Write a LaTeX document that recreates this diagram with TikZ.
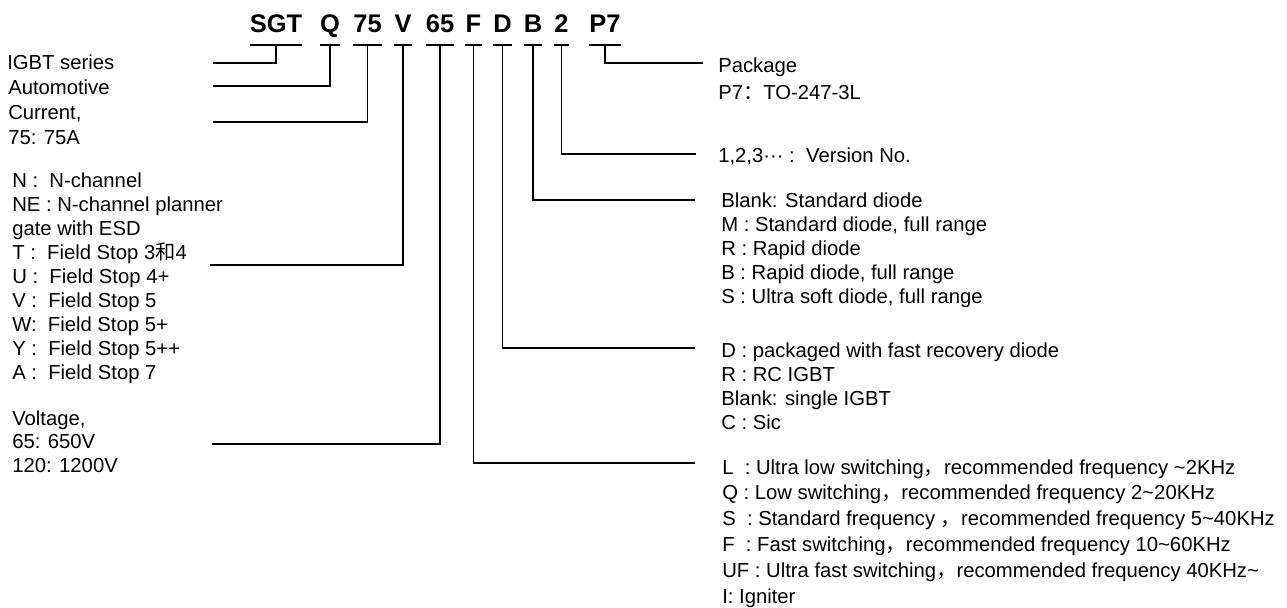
\documentclass[tikz,border=0pt]{standalone}
\usepackage{fontspec}
\setmainfont{Liberation Sans}
\newfontfamily\cjk{Noto Sans CJK SC}
\usetikzlibrary{positioning,calc}
\tikzset{code/.style={font=\bfseries\fontsize{19.1}{22}\selectfont,inner sep=0pt,anchor=base},
desc/.style={font=\fontsize{15.2}{18}\selectfont,align=left,anchor=base west,inner sep=0pt},
link/.style={line width=1.1pt}}

\begin{document}
\begin{tikzpicture}[x=0.75pt,y=-0.75pt]
\useasboundingbox (0,0) rectangle (1287,607);
% part number
\node[code] (sgt) at (276,32) {SGT};
\node[code] (q) at (330,32) {Q};
\node[code] (cur) at (367.5,32) {75};
\node[code] (v) at (403,32) {V};
\node[code] (volt) at (440,32) {65};
\node[code] (f) at (473.5,32) {F};
\node[code] (d) at (502.5,32) {D};
\node[code] (b) at (533,32) {B};
\node[code] (ver) at (561.5,32) {2};
\node[code] (pkg) at (605,32) {P7};
% left side (anchor = baseline of last line)
\node[desc] (series) at (7,69) {IGBT series};
\node[desc] (auto) at (8,94) {Automotive};
\node[desc,font=\fontsize{15.2}{18.75}\selectfont] (current) at (8,144) {Current,\\75: 75A};
\node[desc] (tech) at (12,379) {N :\ \ N-channel\\NE : N-channel planner\\gate with ESD\\T :\ \ Field Stop 3{\cjk 和}4\\U :\ \ Field Stop 4+\\V :\ \ Field Stop 5\\W:\ \ Field Stop 5+\\Y :\ \ Field Stop 5++\\A :\ \ Field Stop 7};
\node[desc,font=\fontsize{15.2}{17.6}\selectfont] (voltage) at (12,472) {Voltage,\\65: 650V\\120: 1200V};
% right side
\node[desc,font=\fontsize{15.2}{20.2}\selectfont] (package) at (718,99) {Package\\P7{\cjk ：}TO-247-3L};
\node[desc] (version) at (718,162) {1,2,3···\ :\ \ Version No.};
\node[desc] (diode) at (721,303) {Blank: Standard diode\\M : Standard diode, full range\\R : Rapid diode\\B : Rapid diode, full range\\S : Ultra soft diode, full range};
\node[desc] (pack) at (721,429) {D : packaged with fast recovery diode\\R : RC IGBT\\Blank: single IGBT\\C : Sic};
\node[desc,font=\fontsize{15.2}{19.35}\selectfont] (freq) at (722,603) {L\ \ : Ultra low switching{\cjk ，}recommended frequency \textasciitilde2KHz\\Q : Low switching{\cjk ，}recommended frequency 2\textasciitilde20KHz\\S\ \ : Standard frequency {\cjk ，}recommended frequency 5\textasciitilde40KHz\\F\ \ : Fast switching{\cjk ，}recommended frequency 10\textasciitilde60KHz\\UF : Ultra fast switching{\cjk ，}recommended frequency 40KHz\textasciitilde\\I: Igniter};
% free ends of the leaders
\coordinate (bar) at (0,45);
\coordinate (e-series) at (213,63);
\coordinate (e-auto) at (213,86);
\coordinate (e-current) at (213,122);
\coordinate (e-tech) at (210,265);
\coordinate (e-voltage) at (212,444);
\coordinate (e-freq) at (695,463);
\coordinate (e-pack) at (695,348);
\coordinate (e-diode) at (695,200);
\coordinate (e-version) at (696,154);
\coordinate (e-package) at (703,63);
% bars under each field
\foreach \n in {sgt,q,cur,v,volt,f,d,b,ver,pkg}
  \draw[link] (\n.west |- bar) -- (\n.east |- bar);
% leaders
\draw[link] (sgt |- bar) |- (e-series);
\draw[link] (q |- bar) |- (e-auto);
\draw[link] (cur |- bar) |- (e-current);
\draw[link] (v |- bar) |- (e-tech);
\draw[link] (volt |- bar) |- (e-voltage);
\draw[link] (f |- bar) |- (e-freq);
\draw[link] (d |- bar) |- (e-pack);
\draw[link] (b |- bar) |- (e-diode);
\draw[link] (ver |- bar) |- (e-version);
\draw[link] (pkg |- bar) |- (e-package);
\end{tikzpicture}
\end{document}
